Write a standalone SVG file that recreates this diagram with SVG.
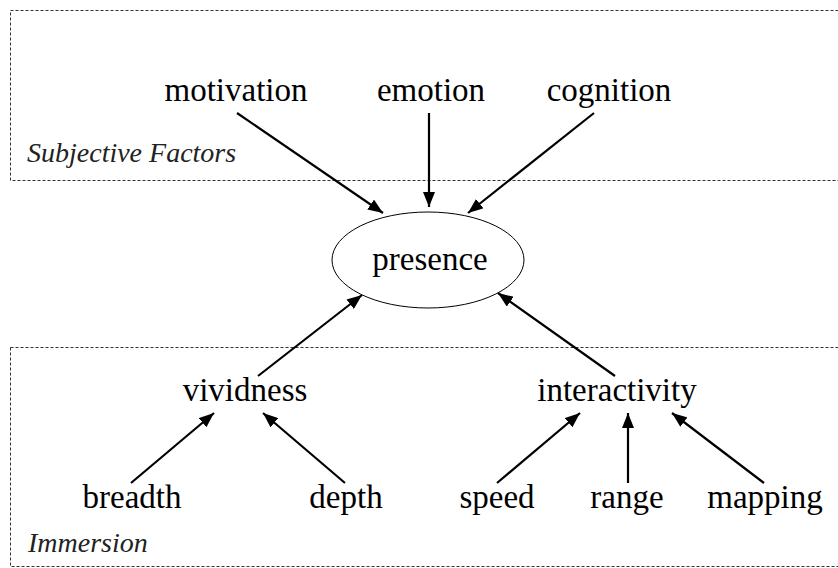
<svg xmlns="http://www.w3.org/2000/svg" width="838" height="568" viewBox="0 0 838 568">
<defs>
<marker id="ah" markerUnits="userSpaceOnUse" markerWidth="15" markerHeight="12" refX="15" refY="6" orient="auto">
<path d="M0,0 L15,6 L0,12 Z" fill="#000"/>
</marker>
</defs>
<rect width="838" height="568" fill="#fff"/>
<g id="subjective-factors">
<rect x="10.5" y="10.5" width="840" height="170" fill="none" stroke="#333" stroke-width="1" stroke-dasharray="3 2"/>
<text x="27" y="162" font-family="Liberation Serif" font-size="28" font-style="italic" fill="#222">Subjective Factors</text>
</g>
<g id="immersion">
<rect x="10.5" y="347.5" width="840" height="219" fill="none" stroke="#333" stroke-width="1" stroke-dasharray="3 2"/>
<text x="28" y="552" font-family="Liberation Serif" font-size="28" font-style="italic" fill="#222">Immersion</text>
</g>
<g id="connectors" stroke="#000" stroke-width="2.2" fill="none" marker-end="url(#ah)">
<line x1="237" y1="113" x2="383" y2="213"/>
<line x1="429" y1="113" x2="429" y2="207"/>
<line x1="594" y1="113" x2="468" y2="213"/>
<line x1="258" y1="376" x2="362" y2="295"/>
<line x1="615" y1="376" x2="498" y2="293"/>
<line x1="131" y1="483" x2="214" y2="413"/>
<line x1="345" y1="483" x2="263" y2="413"/>
<line x1="497" y1="483" x2="580" y2="413"/>
<line x1="628" y1="483" x2="628" y2="413"/>
<line x1="764" y1="483" x2="672" y2="413"/>
</g>
<g id="motivation"><text x="236" y="101" font-family="Liberation Serif" font-size="33" text-anchor="middle">motivation</text></g>
<g id="emotion"><text x="431" y="101" font-family="Liberation Serif" font-size="33" text-anchor="middle">emotion</text></g>
<g id="cognition"><text x="609" y="101" font-family="Liberation Serif" font-size="33" text-anchor="middle">cognition</text></g>
<g id="presence">
<ellipse cx="428" cy="260" rx="96" ry="48" fill="#fff" stroke="#000" stroke-width="1"/>
<text x="430" y="270" font-family="Liberation Serif" font-size="33" text-anchor="middle">presence</text>
</g>
<g id="vividness"><text x="245" y="401" font-family="Liberation Serif" font-size="33" text-anchor="middle">vividness</text></g>
<g id="interactivity"><text x="617" y="401" font-family="Liberation Serif" font-size="33" text-anchor="middle">interactivity</text></g>
<g id="breadth"><text x="132" y="508" font-family="Liberation Serif" font-size="33" text-anchor="middle">breadth</text></g>
<g id="depth"><text x="346" y="508" font-family="Liberation Serif" font-size="33" text-anchor="middle">depth</text></g>
<g id="speed"><text x="497" y="508" font-family="Liberation Serif" font-size="33" text-anchor="middle">speed</text></g>
<g id="range"><text x="627" y="508" font-family="Liberation Serif" font-size="33" text-anchor="middle">range</text></g>
<g id="mapping"><text x="765" y="508" font-family="Liberation Serif" font-size="33" text-anchor="middle">mapping</text></g>
</svg>
